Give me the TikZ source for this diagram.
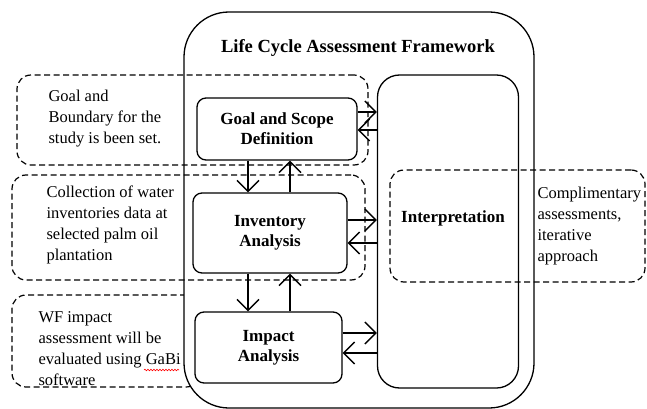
\documentclass[tikz,border=0pt]{standalone}
\usepackage{fontspec}
\setmainfont{Liberation Serif}
\usepackage{tikz}
\usetikzlibrary{arrows.meta, decorations.pathmorphing}

\tikzset{
    stage/.style={draw, line width=1.3pt, rounded corners=9pt, font=\bfseries\fontsize{17}{20}\selectfont, align=center},
    note/.style={draw, dashed, dash pattern=on 6pt off 3.5pt, line width=1.2pt, rounded corners=14pt},
    notetext/.style={anchor=west, align=left, font=\fontsize{16.5}{21}\selectfont},
    arr/.style={line width=1.3pt, -{Straight Barb[length=11pt, width=22pt, line width=1.4pt]}}
}

\begin{document}
\begin{tikzpicture}[x=1pt, y=-1pt]
        \useasboundingbox (0,0) rectangle (647,409);

        \node[note, minimum width=188pt, minimum height=92pt] (wfbox) at (106,341) {};
        \node[draw, fill=white, line width=1.3pt, rounded corners=45pt, minimum width=350pt, minimum height=396pt] (frame) at (359,210) {};
        \node[font=\bfseries\fontsize{18.5}{22}\selectfont] (title) at (358,48) {Life Cycle Assessment Framework};

        \node[note, minimum width=351pt, minimum height=90pt] (goalbox) at (192.5,120) {};
        \node[note, minimum width=353pt, minimum height=105pt] (invbox) at (188.5,227.5) {};
        \node[note, minimum width=255pt, minimum height=112pt] (compbox) at (517.5,226) {};

        \node[stage, fill=white, minimum width=160pt, minimum height=62pt] (goal) at (277,129) {Goal and Scope\\Definition};
        \node[stage, minimum width=154pt, minimum height=80pt] (inv) at (270,233) {Inventory\\Analysis};
        \node[stage, minimum width=147pt, minimum height=71pt] (imp) at (268.5,347.5) {Impact\\Analysis};
        \node[stage, rounded corners=22pt, minimum width=141pt, minimum height=313pt] (interp) at (448,231.5) {};
        \node[font=\bfseries\fontsize{17}{20}\selectfont] (interplabel) at (453,218) {Interpretation};

        \node[notetext] (goaltext) at (45,119) {Goal and\\Boundary for the\\study is been set.};
        \node[notetext] (invtext) at (43,225) {Collection of water\\inventories data at\\selected palm oil\\plantation};
        \node[notetext] (wftext) at (35,349) {WF impact\\assessment will be\\evaluated using GaBi\\software};
        \node[notetext] (comptext) at (534,226) {Complimentary\\assessments,\\iterative\\approach};

        \draw[red, line width=0.6pt, decorate, decoration={snake, amplitude=0.8pt, segment length=3pt}]
            (144,370) -- (179,370);

        \draw[arr] ([yshift=17pt]goal.east) -- ([yshift=17pt]goal.east -| interp.west);
        \draw[arr] ([yshift=-1pt]goal.east -| interp.west) -- ([yshift=-1pt]goal.east);
        \draw[arr] ([yshift=13pt]inv.east) -- ([yshift=13pt]inv.east -| interp.west);
        \draw[arr] ([yshift=-10pt]inv.east -| interp.west) -- ([yshift=-10pt]inv.east);
        \draw[arr] ([yshift=14.5pt]imp.east) -- ([yshift=14.5pt]imp.east -| interp.west);
        \draw[arr] ([yshift=-5.5pt]imp.east -| interp.west) -- ([yshift=-5.5pt]imp.east);

        \draw[arr] ([xshift=-29pt]goal.south) -- ([xshift=-29pt]goal.south |- inv.north);
        \draw[arr] ([xshift=20pt]inv.north) -- ([xshift=20pt]inv.north |- goal.south);
        \draw[arr] ([xshift=-22pt]inv.south) -- ([xshift=-22pt]inv.south |- imp.north);
        \draw[arr] ([xshift=21.5pt]imp.north) -- ([xshift=21.5pt]imp.north |- inv.south);
    \end{tikzpicture}
\end{document}
